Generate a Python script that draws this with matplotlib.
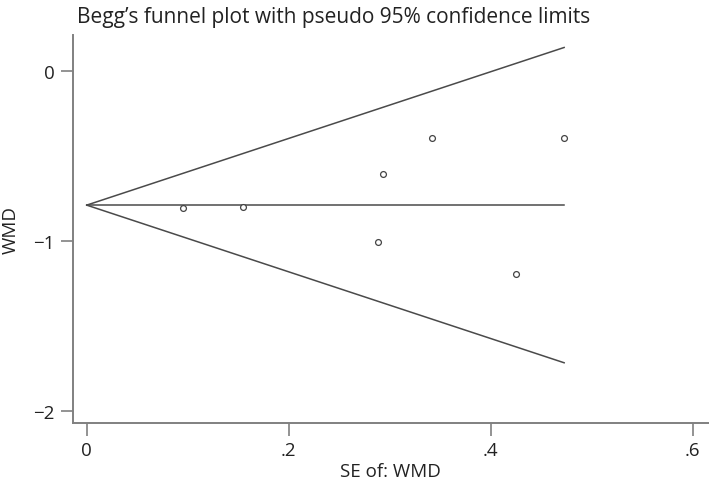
import matplotlib
matplotlib.use("Agg")
import matplotlib.pyplot as plt
import numpy as np

# study standard errors and weighted mean differences
se = [0.095, 0.155, 0.288, 0.293, 0.342, 0.4245, 0.4726]
wmd = [-0.809, -0.800, -1.009, -0.609, -0.398, -1.196, -0.398]
pooled = -0.79
xticks = [0, 0.2, 0.4, 0.6]
xticklabels = ["0", ".2", ".4", ".6"]
yticks = [0, -1, -2]

plt.rcParams['font.family'] = ['Open Sans', 'DejaVu Sans']

fig = plt.figure(figsize=(7.09, 4.89), dpi=100)
ax = fig.add_axes([0.1025, 0.133, 0.8975, 0.7935])

line_col = '#4a4a4a'
se_max = max(se)
# pseudo 95% confidence limits
ax.plot([0, se_max], [pooled, pooled + 1.96 * se_max], color=line_col, lw=1.1)
ax.plot([0, se_max], [pooled, pooled - 1.96 * se_max], color=line_col, lw=1.1)
ax.plot([0, se_max], [pooled, pooled], color=line_col, lw=1.1)

ax.plot(se, wmd, 'o', mfc='white', mec='#444444', mew=0.9, ms=4.2, linestyle='none')

ax.set_xlim(-0.0139, 0.616)
ax.set_ylim(-2.07, 0.21)
ax.set_xticks(xticks)
ax.set_xticklabels(xticklabels)
ax.set_yticks(yticks)

for s in ['top', 'right']:
    ax.spines[s].set_visible(False)
for s in ['left', 'bottom']:
    ax.spines[s].set_color('#808080')
    ax.spines[s].set_linewidth(1.4)

ax.tick_params(axis='both', colors='#808080', length=9, width=1.2,
               labelsize=13.5, labelcolor='#222222', pad=4)

ax.set_xlabel('SE of: WMD', fontsize=13.5, color='#222222', labelpad=2)
ax.set_ylabel('WMD', fontsize=13.5, color='#222222', labelpad=10)

fig.text(77 / 709, 1 - 22.7 / 489, 'Begg\u2019s funnel plot with pseudo 95% confidence limits',
         fontsize=15, color='#222222', ha='left', va='baseline')

fig.savefig('out.png', dpi=100)
